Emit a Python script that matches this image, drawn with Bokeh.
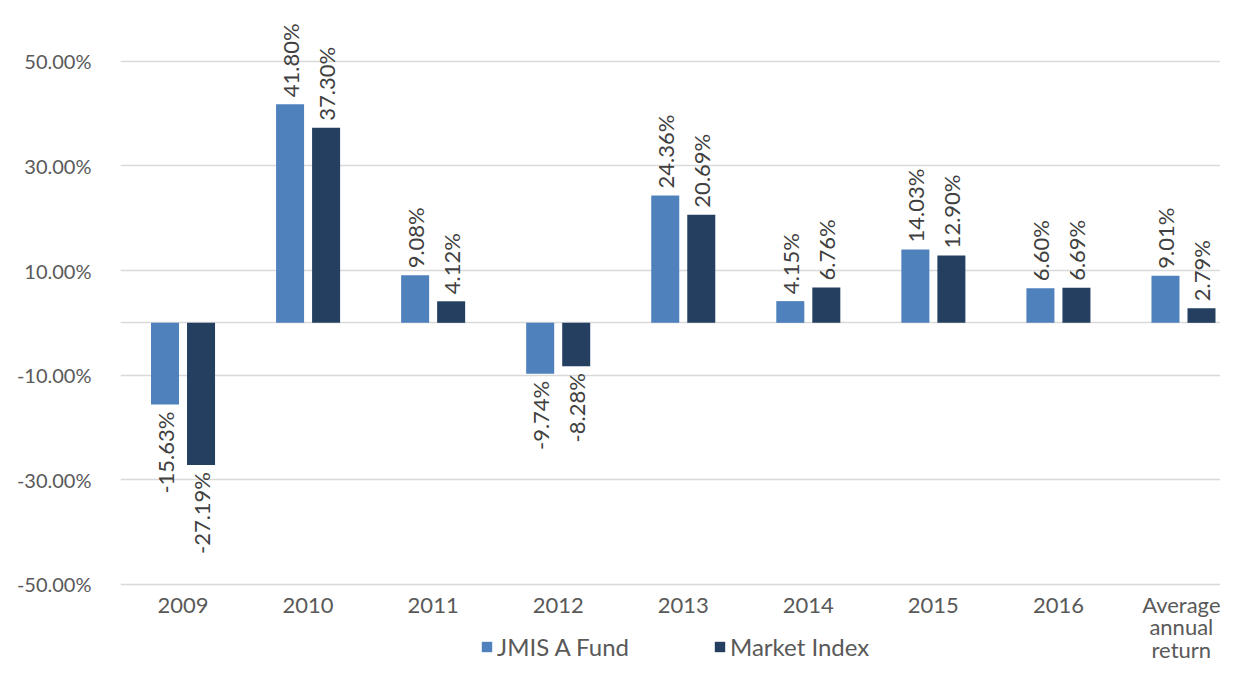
from bokeh.plotting import figure
from bokeh.models import ColumnDataSource, Range1d, FixedTicker, Legend, LegendItem
from bokeh.core.properties import value
from bokeh.embed import file_html
from bokeh.resources import INLINE
import math

# ---- data ----
categories = ["2009", "2010", "2011", "2012", "2013", "2014", "2015", "2016", "Average\nannual\nreturn"]
fund = [-15.63, 41.80, 9.08, -9.74, 24.36, 4.15, 14.03, 6.60, 9.01]
market = [-27.19, 37.30, 4.12, -8.28, 20.69, 6.76, 12.90, 6.69, 2.79]
series_names = ["JMIS A Fund", "Market Index"]
y_ticks = [-50, -30, -10, 10, 30, 50]

FONT = "Lato"
FS = "22px"
TXT = "#595959"
LBL = "#404040"
COLORS = ["#4F81BD", "#253F60"]
OFFSETS = [-0.144, 0.144]
BAR_W = 0.224

p = figure(width=1220, height=666, output_backend="svg", toolbar_location=None,
           x_range=Range1d(-0.5, 8.296), y_range=Range1d(-65.15, 59.73),
           min_border_left=120, min_border_right=0, min_border_top=10, min_border_bottom=0)
p.outline_line_color = None
p.background_fill_color = "white"
p.border_fill_color = "white"

# grid
p.xgrid.grid_line_color = None
p.ygrid.ticker = FixedTicker(ticks=y_ticks + [0])
p.ygrid.grid_line_color = "#D9D9D9"
p.ygrid.grid_line_width = 1.5

# y axis
p.yaxis.ticker = FixedTicker(ticks=y_ticks)
p.yaxis.major_label_overrides = {t: f"{t:.2f}%" for t in y_ticks}
p.yaxis.axis_line_color = None
p.yaxis.major_tick_line_color = None
p.yaxis.minor_tick_line_color = None
p.yaxis.major_label_standoff = 23
p.yaxis.major_label_text_font = FONT
p.yaxis.major_label_text_font_size = "20px"
p.yaxis.major_label_text_color = TXT

# x axis (labels pulled up under the -50% line)
idx = list(range(len(categories)))
p.xaxis.ticker = FixedTicker(ticks=idx)
p.xaxis.major_label_overrides = {i: c for i, c in zip(idx, categories)}
p.xaxis.axis_line_color = None
p.xaxis.major_tick_line_color = None
p.xaxis.major_tick_out = 0
p.xaxis.major_tick_in = 0
p.xaxis.minor_tick_line_color = None
p.xaxis.major_label_standoff = -73
p.xaxis.major_label_text_font = FONT
p.xaxis.major_label_text_font_size = FS
p.xaxis.major_label_text_color = TXT
p.xaxis.major_label_text_line_height = 0.85

items = []
for name, vals, color, off in zip(series_names, [fund, market], COLORS, OFFSETS):
    xs = [i + off for i in idx]
    src = ColumnDataSource(dict(x=xs, top=vals))
    r = p.vbar(x="x", top="top", bottom=0, width=BAR_W, source=src,
               fill_color=color, line_color=None)
    items.append(LegendItem(label=name, renderers=[r]))
    pos = ColumnDataSource(dict(x=[x for x, v in zip(xs, vals) if v >= 0],
                                y=[v for v in vals if v >= 0],
                                t=[f"{v:.2f}%" for v in vals if v >= 0]))
    neg = ColumnDataSource(dict(x=[x for x, v in zip(xs, vals) if v < 0],
                                y=[v for v in vals if v < 0],
                                t=[f"{v:.2f}%" for v in vals if v < 0]))
    p.text(x="x", y="y", text="t", source=pos, angle=math.pi / 2,
           text_align="left", text_baseline="middle", y_offset=-7,
           text_font=value(FONT), text_font_size=FS, text_color=LBL)
    p.text(x="x", y="y", text="t", source=neg, angle=math.pi / 2,
           text_align="right", text_baseline="middle", y_offset=7,
           text_font=value(FONT), text_font_size=FS, text_color=LBL)

legend = Legend(items=items, orientation="horizontal", location=(360, 2),
                glyph_width=13, glyph_height=13, label_standoff=4, spacing=84,
                padding=0, margin=0, border_line_color=None, background_fill_alpha=0,
                label_text_font=FONT, label_text_font_size="24px", label_text_color=TXT)
p.add_layout(legend, "center")

open("out.html", "w").write(file_html(p, INLINE))
